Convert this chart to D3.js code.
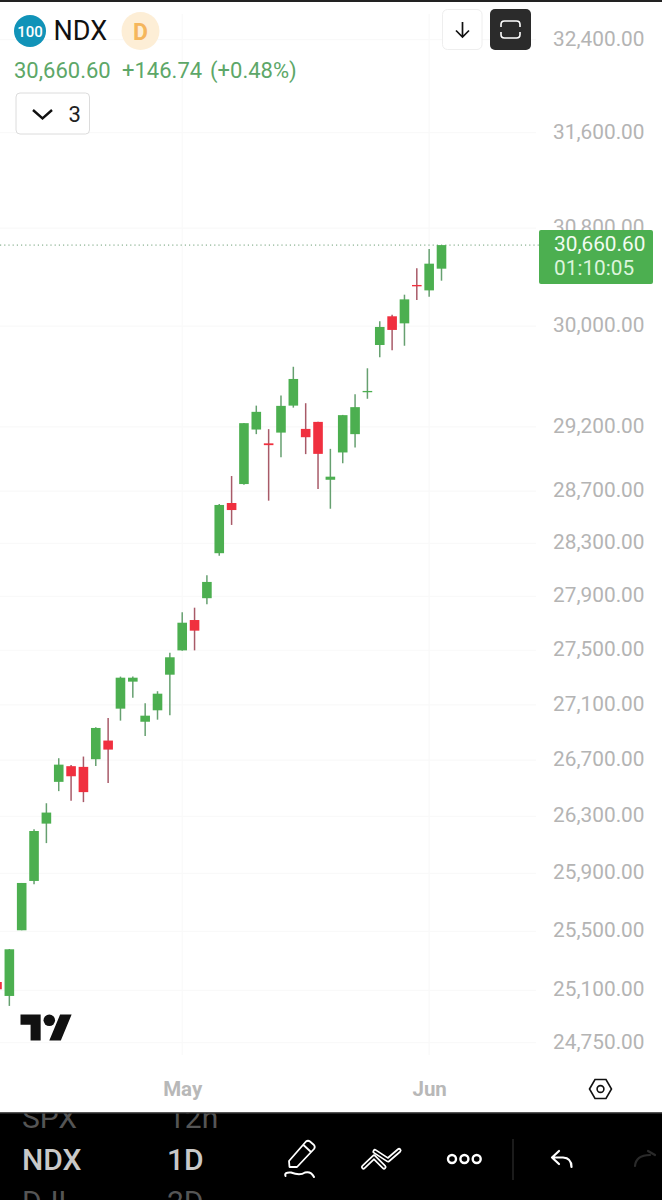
<!DOCTYPE html>
<html>
<head>
<meta charset="utf-8">
<style>
  html, body { margin: 0; padding: 0; background: #fff; }
  svg { display: block; }
  text { font-family: Roboto, sans-serif; }
</style>
<script src="https://cdnjs.cloudflare.com/ajax/libs/d3/7.8.5/d3.min.js"></script>
</head>
<body>
<svg id="chart" width="662" height="1200"></svg>
<script>
// Daily sessions of the Nasdaq-100
const sessions = ["Apr 10","Apr 13","Apr 14","Apr 15","Apr 16","Apr 17","Apr 20","Apr 21","Apr 22","Apr 23","Apr 24","Apr 27","Apr 28","Apr 29","Apr 30","May 1","May 4","May 5","May 6","May 7","May 8","May 11","May 12","May 13","May 14","May 15","May 18","May 19","May 20","May 21","May 22","May 26","May 27","May 28","May 29","Jun 1","Jun 2"];
const opens  = [25156,25062,25508,25848,26249,26545,26657,26652,26707,26841,27072,27269,26977,27060,27320,27499,27724,27887,28226,28609,28755,29179,29071,29155,29367,29184,29239,28788,29000,29143,29473,29849,30080,30023,30334,30290,30467];
const highs  = [25183,25380,25834,26209,26393,26714,26666,26726,26937,27004,27306,27306,27111,27199,27482,27782,27816,28059,28601,28817,29231,29367,29182,29446,29675,29386,29241,29028,29294,29457,29663,30040,30093,30255,30470,30628,30660.6];
const lows   = [25069,24995,25508,25825,26112,26479,26411,26401,26659,26536,26985,27152,26874,26992,27024,27497,27499,27842,28207,28441,28750,29143,28627,28963,29351,28987,28717,28565,28916,29038,29421,29750,29806,29843,30212,30239,30369];
const closes = [25107,25378,25834,26197,26327,26668,26585,26472,26932,26776,27298,27298,27021,27181,27448,27704,27645,28009,28594,28555,29229,29318,29057,29365,29578,29119,28989,28812,29292,29355,29483,29994,29970,30217,30323,30508,30660.6];
const priceTicks = [32400,31600,30800,30000,29200,28700,28300,27900,27500,27100,26700,26300,25900,25500,25100,24750];
const monthTicks = ["May 1","Jun 1"];
const monthLabels = ["May","Jun"];
const lastPrice = 30660.60;
const change = "+146.74";
const changePct = "(+0.48%)";
const countdown = "01:10:05";

const UP = "#4caf50", DOWN = "#f0303f", UP_WICK = "#66a070", DOWN_WICK = "#a85a68";
const GRID = "#f9f9f9", AXIS_TEXT = "#b4b4b4";

const svg = d3.select("#chart");
const x = d3.scalePoint().domain(sessions).range([-3, 441.5]);
const y = d3.scaleLog().domain([32400, 24750]).range([39.6, 1042.6]);

const candles = sessions.map((s, i) => ({ s, o: opens[i], h: highs[i], l: lows[i], c: closes[i] }));

// Grid
svg.append("g").selectAll("line").data(priceTicks).join("line")
  .attr("x1", 0).attr("x2", 536).attr("y1", d => y(d)).attr("y2", d => y(d))
  .attr("stroke", GRID).attr("stroke-width", 1.2);
svg.append("g").selectAll("line").data(monthTicks).join("line")
  .attr("x1", d => x(d)).attr("x2", d => x(d)).attr("y1", 14).attr("y2", 1055)
  .attr("stroke", GRID).attr("stroke-width", 1.2);

// Last price line
svg.append("line").attr("x1", 0).attr("x2", 540).attr("y1", y(lastPrice)).attr("y2", y(lastPrice))
  .attr("stroke", "#6f9f78").attr("stroke-width", 1).attr("stroke-dasharray", "1.2 3");

// Candles
const candle = svg.append("g").selectAll("g").data(candles).join("g");
candle.append("line")
  .attr("x1", d => x(d.s)).attr("x2", d => x(d.s))
  .attr("y1", d => y(d.h)).attr("y2", d => y(d.l))
  .attr("stroke", d => d.c >= d.o ? UP_WICK : DOWN_WICK).attr("stroke-width", 1.5);
candle.append("rect")
  .attr("x", d => x(d.s) - 4.8).attr("width", 9.6)
  .attr("y", d => y(Math.max(d.o, d.c)))
  .attr("height", d => Math.max(1.3, Math.abs(y(d.o) - y(d.c))))
  .attr("fill", d => d.c >= d.o ? UP : DOWN);

// Price scale
const yAxis = svg.append("g").attr("transform", "translate(644.5,0)")
  .call(d3.axisLeft(y).tickValues(priceTicks).tickSize(0).tickPadding(0).tickFormat(d3.format(",.2f")));
yAxis.select(".domain").remove();
yAxis.selectAll("text")
  .attr("dy", "0.32em").attr("y", -1.2)
  .style("font-family", "Roboto, sans-serif").style("font-size", "20.8px").attr("fill", AXIS_TEXT);

// Last price tag
svg.append("rect").attr("x", 539).attr("y", 230).attr("width", 114).attr("height", 54).attr("rx", 2).attr("fill", UP);
svg.append("text").attr("x", 554).attr("y", 250.5).attr("font-size", 20.8).attr("fill", "#f2fbf2").text(d3.format(",.2f")(lastPrice));
svg.append("text").attr("x", 554).attr("y", 274.5).attr("font-size", 20.8).attr("fill", "#dcf5dc").text(countdown);

// Time scale
const xAxis = svg.append("g").attr("transform", "translate(0,1089)")
  .call(d3.axisBottom(x).tickValues(monthTicks).tickSize(0).tickPadding(0).tickFormat(d => monthLabels[monthTicks.indexOf(d)]));
xAxis.select(".domain").remove();
xAxis.selectAll("text").attr("y", 0).attr("dy", "0.36em")
  .style("font-family", "Roboto, sans-serif").style("font-size", "20.5px").style("font-weight", 700).attr("fill", "#b8b8b8");

// Symbol header
svg.append("circle").attr("cx", 30).attr("cy", 31).attr("r", 16).attr("fill", "#1193b8");
svg.append("text").attr("x", 30).attr("y", 36.5).attr("text-anchor", "middle").attr("font-size", 15).attr("font-weight", 500).attr("fill", "#fff").text("100");
svg.append("text").attr("x", 53.5).attr("y", 40).attr("font-size", 27).attr("fill", "#111").text("NDX");
svg.append("circle").attr("cx", 140.5).attr("cy", 31).attr("r", 19).attr("fill", "#fdeed6");
svg.append("text").attr("x", 140.5).attr("y", 39.5).attr("text-anchor", "middle").attr("font-size", 23).attr("font-weight", 700).attr("fill", "#f5b65c").text("D");
const quote = svg.append("g").attr("font-size", 22).attr("fill", "#5da768");
quote.append("text").attr("x", 14).attr("y", 78).text(d3.format(",.2f")(lastPrice));
quote.append("text").attr("x", 122).attr("y", 78).text(change);
quote.append("text").attr("x", 210).attr("y", 78).text(changePct);

// Collapsed indicators control
svg.append("rect").attr("x", 16).attr("y", 93).attr("width", 73.5).attr("height", 41).attr("rx", 4).attr("fill", "#fff").attr("stroke", "#dcdcdc");
svg.append("path").attr("d", "M33 110 L42.5 118.5 L52 110").attr("fill", "none").attr("stroke", "#111").attr("stroke-width", 2.4);
svg.append("text").attr("x", 68.5).attr("y", 121.5).attr("font-size", 22).attr("fill", "#222").text("3");

// Top strip and chart buttons
svg.append("rect").attr("width", 662).attr("height", 2).attr("fill", "#222");
svg.append("rect").attr("x", 442.5).attr("y", 9.5).attr("width", 39.5).attr("height", 40).attr("rx", 5).attr("fill", "#fff").attr("stroke", "#eee");
svg.append("path").attr("d", "M462.5 22 V37 M456 30.5 L462.5 37 L469 30.5").attr("fill", "none").attr("stroke", "#111").attr("stroke-width", 1.7);
svg.append("rect").attr("x", 490).attr("y", 9).attr("width", 41).attr("height", 41).attr("rx", 5).attr("fill", "#2b2b2b");
svg.append("path").attr("d", "M501 27 V24.5 Q501 21 504.5 21 H516.5 Q520 21 520 24.5 V27 M501 32 V34.5 Q501 38 504.5 38 H516.5 Q520 38 520 34.5 V32")
  .attr("fill", "none").attr("stroke", "#fff").attr("stroke-width", 1.6);

// Brand mark
const brand = svg.append("g").attr("transform", "translate(20.5,1008.8) scale(1.44)").attr("fill", "#111");
brand.append("path").attr("d", "M14 22H7V11H0V4h14v18zM28 22h-8l7.5-18h8L28 22z");
brand.append("circle").attr("cx", 20).attr("cy", 8).attr("r", 4);

// Settings icon
svg.append("path").attr("d", "M589.5 1089 L595 1079.5 H606 L611.5 1089 L606 1098.5 H595 Z").attr("fill", "none").attr("stroke", "#111").attr("stroke-width", 1.6);
svg.append("circle").attr("cx", 600.5).attr("cy", 1089).attr("r", 3.4).attr("fill", "none").attr("stroke", "#111").attr("stroke-width", 1.6);

// Bottom toolbar with its wheel pickers
svg.append("rect").attr("y", 1112).attr("width", 662).attr("height", 88).attr("fill", "#000");
svg.append("rect").attr("y", 1112).attr("width", 662).attr("height", 1.4).attr("fill", "#555");
svg.append("clipPath").attr("id", "wheel").append("rect").attr("y", 1113.4).attr("width", 662).attr("height", 86.6);
const wheel = svg.append("g").attr("clip-path", "url(#wheel)").attr("font-size", 30).attr("font-weight", 500);
wheel.append("text").attr("x", 22).attr("y", 1128).attr("fill", "#555").attr("font-weight", 400).text("SPX");
wheel.append("text").attr("x", 168).attr("y", 1128).attr("fill", "#555").attr("font-weight", 400).text("12h");
wheel.append("text").attr("x", 22).attr("y", 1170).attr("fill", "#c8c8c8").text("NDX");
wheel.append("text").attr("x", 167).attr("y", 1170).attr("fill", "#c8c8c8").text("1D");
wheel.append("text").attr("x", 22).attr("y", 1212).attr("fill", "#555").attr("font-weight", 400).text("DJI");
wheel.append("text").attr("x", 167).attr("y", 1212).attr("fill", "#555").attr("font-weight", 400).text("2D");

const tools = svg.append("g").attr("fill", "none").attr("stroke", "#fff").attr("stroke-linecap", "round").attr("stroke-linejoin", "round");
tools.append("path").attr("d", "M289 1161 L306 1141.5 Q308 1140 310 1141.5 L314 1145 Q315.5 1147 314 1149 L297 1167 L289.5 1167 Z M303.5 1145 L311 1152").attr("stroke-width", 1.8);
tools.append("path").attr("d", "M285.5 1176 Q284 1172 291 1172.5 Q300 1176 305 1172.5 Q311 1171 314 1177").attr("stroke-width", 2);
const zigzag = "M363.5 1167 L374 1157 L384 1167 M375 1151.5 L388 1160 L399 1150.5";
tools.append("path").attr("d", zigzag).attr("stroke-width", 5);
tools.append("path").attr("d", zigzag).attr("stroke-width", 1.6).attr("stroke", "#000");
[452, 464.4, 476.7].forEach(cx => tools.append("circle").attr("cx", cx).attr("cy", 1159).attr("r", 4).attr("stroke-width", 2.4));
svg.append("line").attr("x1", 513).attr("x2", 513).attr("y1", 1139).attr("y2", 1180).attr("stroke", "#2e2e2e").attr("stroke-width", 1.2);
tools.append("path").attr("d", "M559 1151 L552 1157.5 L559 1164 M552 1157.5 H563 Q571.5 1158 571.5 1167").attr("stroke-width", 2.2);
tools.append("path").attr("d", "M635 1166 Q636 1155 650 1155 M648 1151 L655 1155").attr("stroke", "#2a2a2a").attr("stroke-width", 2.2);
</script>
</body>
</html>
